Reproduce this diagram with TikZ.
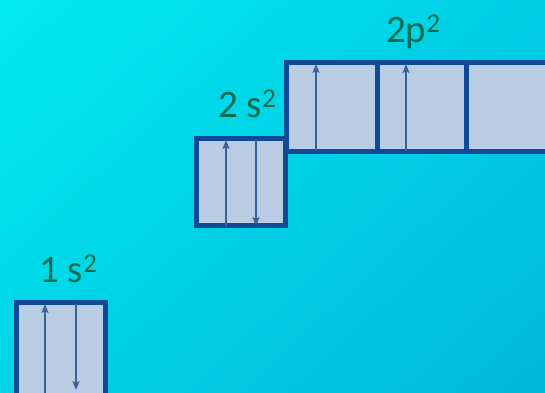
\documentclass[tikz,border=0pt]{standalone}
\usepackage{fontspec}
\setmainfont{Carlito}
\usetikzlibrary{arrows.meta,shadings}
\definecolor{bgul}{RGB}{0,234,242}
\definecolor{bgur}{RGB}{0,206,228}
\definecolor{bgll}{RGB}{0,212,230}
\definecolor{bglr}{RGB}{0,184,216}
\definecolor{orbfill}{RGB}{184,204,228}
\definecolor{orbline}{RGB}{16,74,150}
\definecolor{spin}{RGB}{62,96,154}
\definecolor{lbl}{RGB}{12,108,80}

\begin{document}
\begin{tikzpicture}[x=1pt, y=1pt, line join=miter,
  orb/.style={fill=orbfill, draw=orbline, line width=5pt},
  spinarr/.style={draw=spin, line width=1.8pt, -{Stealth[length=9pt,width=7pt,inset=2pt]}},
  level/.style={anchor=base west, text=lbl, font=\fontsize{39}{44}\selectfont, inner sep=0pt}]
  \useasboundingbox (0,0) rectangle (545,392);
  \clip (0,0) rectangle (545,392);
  \shade[upper left=bgul, upper right=bgur, lower left=bgll, lower right=bglr]
    (0,0) rectangle (545,392);

  % 1s
  \draw[orb] (16.5,-20) rectangle (105.5,89.5);
  \coordinate (s1a) at (45,-10);
  \coordinate (s1b) at (45,88);
  \coordinate (s1c) at (76,88);
  \coordinate (s1d) at (76,2);
  \draw[spinarr] (s1a) -- (s1b);
  \draw[spinarr] (s1c) -- (s1d);
  \node[level] (l1s) at (39,110) {1 s\textsuperscript{2}};

  % 2p
  \draw[orb] (286.5,240.5) rectangle (600,329.5);
  \draw[orb] (377,240.5) -- (377,329.5);
  \draw[orb] (466,240.5) -- (466,329.5);
  \coordinate (p1a) at (316,241);
  \coordinate (p1b) at (316,328);
  \coordinate (p2a) at (406,241);
  \coordinate (p2b) at (406,328);
  \draw[spinarr] (p1a) -- (p1b);
  \draw[spinarr] (p2a) -- (p2b);
  \node[level] (l2p) at (386,350) {2p\textsuperscript{2}};

  % 2s
  \draw[orb] (196.5,166.5) rectangle (285.5,253.5);
  \coordinate (s2a) at (226,166);
  \coordinate (s2b) at (226,252);
  \coordinate (s2c) at (256,252);
  \coordinate (s2d) at (256,166);
  \draw[spinarr] (s2a) -- (s2b);
  \draw[spinarr] (s2c) -- (s2d);
  \node[level] (l2s) at (218,275) {2 s\textsuperscript{2}};
\end{tikzpicture}
\end{document}
